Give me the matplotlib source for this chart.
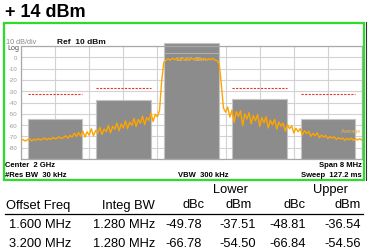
import numpy as np
import matplotlib
matplotlib.use("Agg")
import matplotlib.pyplot as plt
from matplotlib.patches import Rectangle

plt.rcParams['font.family'] = ['Liberation Sans', 'DejaVu Sans']

# ACP channels: offset (MHz), integration bandwidth, measured power (dBm)
chan_offset = [-3.2, -1.6, 0.0, 1.6, 3.2]
chan_bw = 1.28
chan_power = [-54.50, -37.51, 12.27, -36.54, -54.56]
limit_level = [-32.5, -27.5, None, -27.5, -32.5]

# trace, 0.05 MHz steps from -4 to +4 MHz
trace_left = [
    -73.5, -72.8, -74.1, -73.0, -72.2, -73.9, -72.6, -73.4, -71.9, -73.2,
    -72.4, -71.5, -73.0, -71.8, -72.6, -70.9, -72.3, -71.2, -70.4, -72.0,
    -70.8, -69.5, -71.6, -69.0, -70.7, -67.2, -70.1, -66.5, -69.8, -65.3,
    -70.5, -66.0, -68.9, -63.2, -69.5, -64.8, -67.0, -62.1, -68.3, -63.5,
    -65.9, -60.4, -66.8, -61.0, -63.7, -58.2, -65.0, -59.1, -62.4, -56.3,
    -63.0, -57.5, -60.2, -54.1, -61.3, -55.0, -58.4, -52.0, -59.6, -53.2,
    -55.8, -49.5, -56.9, -50.3, -52.7, -47.0, -21.0, -4.5,
]
trace_main = [
    -2.8, -1.3, -2.6, -0.9, -2.2, -1.0, -2.7, -1.2, -0.6, -2.3,
    -1.1, -2.5, -0.8, -1.9, -0.7, -2.4, -1.3, -2.0, -0.9, -2.6,
    -1.2, -2.1, -1.0, -2.5, -3.0,
]
trace_right = [
    -5.5, -24.0, -45.0, -48.5, -44.0, -53.0, -46.5, -57.5, -48.0, -52.5,
    -47.2, -60.5, -50.1, -54.6, -49.0, -58.8, -51.5, -56.0, -50.8, -61.2,
    -53.4, -57.9, -52.6, -62.5, -55.7, -59.8, -54.9, -63.6, -57.2, -61.0,
    -58.3, -65.4, -59.6, -63.2, -60.7, -67.0, -62.8, -65.9, -63.1, -68.7,
    -64.9, -67.5, -65.6, -70.0, -67.3, -69.4, -66.8, -71.2, -68.9, -70.6,
    -69.2, -72.0, -70.1, -71.5, -70.4, -72.8, -71.0, -72.3, -71.4, -73.5,
    -71.8, -72.9, -71.6, -73.6, -72.2, -73.1, -72.0, -73.4,
]
trace = trace_left + trace_main + trace_right
freq = np.linspace(-4, 4, len(trace))

y_ticks = [0, -10, -20, -30, -40, -50, -60, -70, -80]

# results table
offset_freq = ["1.600 MHz", "3.200 MHz"]
integ_bw = ["1.280 MHz", "1.280 MHz"]
lower_dbc = ["-49.78", "-66.78"]
lower_dbm = ["-37.51", "-54.50"]
upper_dbc = ["-48.81", "-66.84"]
upper_dbm = ["-36.54", "-54.56"]

W, H = 372, 251
fig = plt.figure(figsize=(W / 100, H / 100), dpi=100)


def fx(x):
    return x / W


def fy(y):
    return 1 - y / H


# green screen frame
fig.patches.append(Rectangle((fx(4), fy(181)), fx(360), 157 / H, transform=fig.transFigure,
                             fill=False, edgecolor='#2bdc2b', lw=1.6))
fig.lines.append(plt.Line2D([fx(366), fx(366)], [fy(181), fy(23)], transform=fig.transFigure,
                            color='#333333', lw=0.8))

ax = fig.add_axes([fx(21), fy(160), 341 / W, 113 / H])
ax.set_xlim(-4, 4)
ax.set_ylim(-90, 10)
ax.set_xticks(np.arange(-4, 4.01, 0.8))
ax.set_yticks(np.arange(-90, 10.1, 10))
ax.grid(True, color='#d2d2d2', lw=0.8)
ax.tick_params(length=0, labelbottom=False, labelleft=False)
for s in ax.spines.values():
    s.set_color('#a8a8a8')
    s.set_linewidth(0.9)

for off, p, lim in zip(chan_offset, chan_power, limit_level):
    ax.add_patch(Rectangle((off - chan_bw / 2, -90), chan_bw, p + 90, facecolor='#8c8c8c',
                           edgecolor='#c4c4c4', lw=0.8, zorder=2, clip_on=(off != 0)))
    if lim is not None:
        ax.plot([off - chan_bw / 2, off + chan_bw / 2], [lim, lim], color='#e8332a',
                lw=0.8, ls=(0, (2, 1.2)), zorder=3)

ax.plot([-chan_bw / 2, chan_bw / 2], [4, 4], color='#b4b4b4', lw=0.7, zorder=2.5)
ax.text(0, -1.5, "12.27 dBm", color='#c8c8c8', fontsize=4.5, ha='center', va='center', zorder=2.6)

ax.plot(freq, trace, color='#ffa500', lw=1.0, zorder=4)
ax.text(3.98, -64.5, "Average", color='#f2b64a', fontsize=4, ha='right', va='center', zorder=5)

for v in y_ticks:
    ax.text(-4.08, v, str(v), color='#9a9a9a', fontsize=4.3, ha='right', va='center', clip_on=False)

# screen annotations
fig.text(fx(6), fy(42), "10 dB/div", color='#8a8a8a', fontsize=5.2, va='center')
fig.text(fx(7), fy(48), "Log", color='#555555', fontsize=5.2, va='center')
fig.text(fx(57), fy(42), "Ref  10 dBm", color='#111111', fontsize=6, weight='bold', va='center')
fig.text(fx(5), fy(165.5), "Center  2 GHz", fontsize=5.5, weight='bold', va='center')
fig.text(fx(5), fy(175.5), "#Res BW  30 kHz", fontsize=5.5, weight='bold', va='center')
fig.text(fx(178), fy(175.5), "VBW  300 kHz", fontsize=5.5, weight='bold', va='center')
fig.text(fx(362), fy(165.5), "Span 8 MHz", fontsize=5.5, weight='bold', va='center', ha='right')
fig.text(fx(362), fy(175.5), "Sweep  127.2 ms", fontsize=5.5, weight='bold', va='center', ha='right')

fig.text(fx(5), fy(12.5), "+ 14 dBm", fontsize=13, weight='bold', va='center')

# table
tfs = 9.3
fig.text(fx(231), fy(190.5), "Lower", fontsize=tfs, ha='center', va='center')
fig.text(fx(330), fy(190.5), "Upper", fontsize=tfs, ha='center', va='center')
hdr_y = fy(205.5)
fig.text(fx(6), hdr_y, "Offset Freq", fontsize=tfs, ha='left', va='center')
fig.text(fx(155), hdr_y, "Integ BW", fontsize=tfs, ha='right', va='center')
fig.text(fx(205), hdr_y, "dBc", fontsize=tfs, ha='right', va='center')
fig.text(fx(252), hdr_y, "dBm", fontsize=tfs, ha='right', va='center')
fig.text(fx(306), hdr_y, "dBc", fontsize=tfs, ha='right', va='center')
fig.text(fx(361), hdr_y, "dBm", fontsize=tfs, ha='right', va='center')
fig.lines.append(plt.Line2D([fx(5), fx(363)], [fy(215.3), fy(215.3)], transform=fig.transFigure,
                            color='black', lw=0.9))
for i, ry in enumerate([225.5, 244.5]):
    y = fy(ry)
    fig.text(fx(9), y, offset_freq[i], fontsize=tfs, ha='left', va='center')
    fig.text(fx(155), y, integ_bw[i], fontsize=tfs, ha='right', va='center')
    fig.text(fx(202), y, lower_dbc[i], fontsize=tfs, ha='right', va='center')
    fig.text(fx(256), y, lower_dbm[i], fontsize=tfs, ha='right', va='center')
    fig.text(fx(306), y, upper_dbc[i], fontsize=tfs, ha='right', va='center')
    fig.text(fx(361), y, upper_dbm[i], fontsize=tfs, ha='right', va='center')

fig.savefig("out.png", dpi=100)
